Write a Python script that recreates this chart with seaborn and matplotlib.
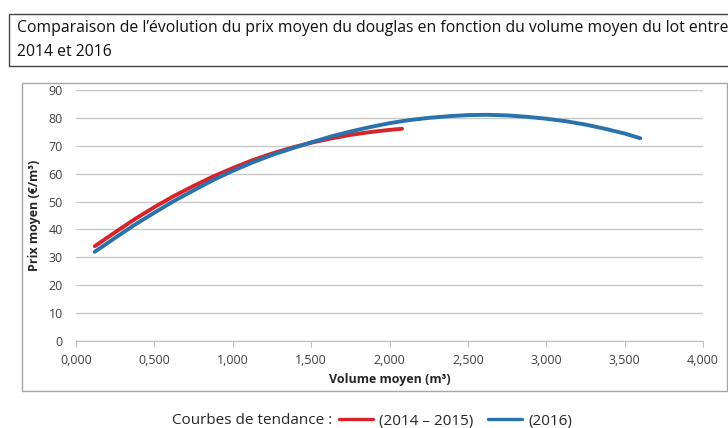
import matplotlib
matplotlib.use("Agg")
import matplotlib.pyplot as plt
from matplotlib.patches import Rectangle
from matplotlib.lines import Line2D
from matplotlib.ticker import FuncFormatter
import seaborn as sns
import pandas as pd

# trend curves
vol_1415 = [0.12, 0.25, 0.375, 0.5, 0.625, 0.75, 0.875, 1.0, 1.125, 1.25,
            1.375, 1.5, 1.625, 1.75, 1.875, 2.0, 2.08]
prix_1415 = [34.0, 39.0, 43.7, 48.0, 52.0, 55.6, 59.0, 62.0, 64.8, 67.2,
             69.3, 71.1, 72.6, 73.9, 74.9, 75.7, 76.1]

vol_2016 = [0.12, 0.25, 0.375, 0.5, 0.625, 0.75, 0.875, 1.0, 1.125, 1.25,
            1.375, 1.5, 1.625, 1.75, 1.875, 2.0, 2.125, 2.25, 2.375, 2.5,
            2.625, 2.75, 2.875, 3.0, 3.125, 3.25, 3.375, 3.5, 3.6]
prix_2016 = [32.0, 37.0, 41.7, 46.0, 50.2, 54.0, 57.7, 61.0, 64.0, 66.7,
             69.0, 71.2, 73.3, 75.1, 76.7, 78.1, 79.2, 80.0, 80.6, 81.0,
             81.1, 80.9, 80.4, 79.7, 78.8, 77.6, 76.1, 74.4, 72.7]

series = ["(2014 \u2013 2015)", "(2016)"]
colors = ["#d9232a", "#2a72ac"]

df = pd.concat([
    pd.DataFrame({"vol": vol_1415, "prix": prix_1415, "serie": series[0]}),
    pd.DataFrame({"vol": vol_2016, "prix": prix_2016, "serie": series[1]}),
])

sns.set_style("white")
plt.rcParams["font.family"] = ["Open Sans", "DejaVu Sans"]

fig = plt.figure(figsize=(7.28, 4.28), dpi=100)
W, H = 728, 428

# title box and chart box (pixel coords -> figure fraction)
def box(x0, y0, x1, y1, ec, lw):
    fig.patches.append(Rectangle((x0 / W, 1 - y1 / H), (x1 - x0) / W, (y1 - y0) / H,
                                 transform=fig.transFigure, fill=False,
                                 edgecolor=ec, linewidth=lw, zorder=0))

box(9, 14, 740, 66, "#444444", 1.0)
box(22, 83, 727, 391, "#a6a6a6", 1.0)

fig.text(17 / W, 1 - 28 / H, "Comparaison de l\u2019\u00e9volution du prix moyen du douglas en fonction du volume moyen du lot entre",
         fontsize=11.3, va="center", ha="left", color="#111111")
fig.text(17 / W, 1 - 52 / H, "2014 et 2016", fontsize=11.3, va="center", ha="left", color="#111111")

ax = fig.add_axes([76 / W, 1 - 341 / H, (703 - 76) / W, (341 - 90) / H])
sns.lineplot(data=df, x="vol", y="prix", hue="serie", palette=colors,
             linewidth=2.8, sort=False, legend=False, ax=ax)

ax.set_xlim(0, 4)
ax.set_ylim(0, 90)
ax.set_xticks([0, 0.5, 1, 1.5, 2, 2.5, 3, 3.5, 4])
ax.set_yticks(range(0, 91, 10))
ax.xaxis.set_major_formatter(FuncFormatter(lambda v, p: f"{v:.3f}".replace(".", ",")))
ax.grid(axis="y", color="#c8c8c8", linewidth=1)
ax.set_axisbelow(True)
for s in ["top", "right", "left"]:
    ax.spines[s].set_visible(False)
ax.spines["bottom"].set_color("#bfbfbf")
ax.tick_params(axis="x", bottom=True, length=4, color="#bfbfbf", labelsize=9,
               labelcolor="#404040", pad=5)
ax.tick_params(axis="y", left=False, labelsize=9, labelcolor="#404040", pad=6)
ax.set_xlabel("Volume moyen (m\u00b3)", fontsize=9, fontweight="bold", labelpad=5)
ax.set_ylabel("Prix moyen (\u20ac/m\u00b3)", fontsize=9, fontweight="bold", labelpad=5)

fig.text(172 / W, 1 - 421 / H, "Courbes de tendance :", fontsize=11, va="center", ha="left")
handles = [Line2D([], [], color=c, linewidth=2.4) for c in colors]
fig.legend(handles, series, loc="center left", bbox_to_anchor=(339 / W, 1 - 421 / H),
           ncol=2, frameon=False, fontsize=11, handlelength=2.2,
           columnspacing=1.0, handletextpad=0.4, borderaxespad=0, borderpad=0)

fig.savefig("out.png", dpi=100)
